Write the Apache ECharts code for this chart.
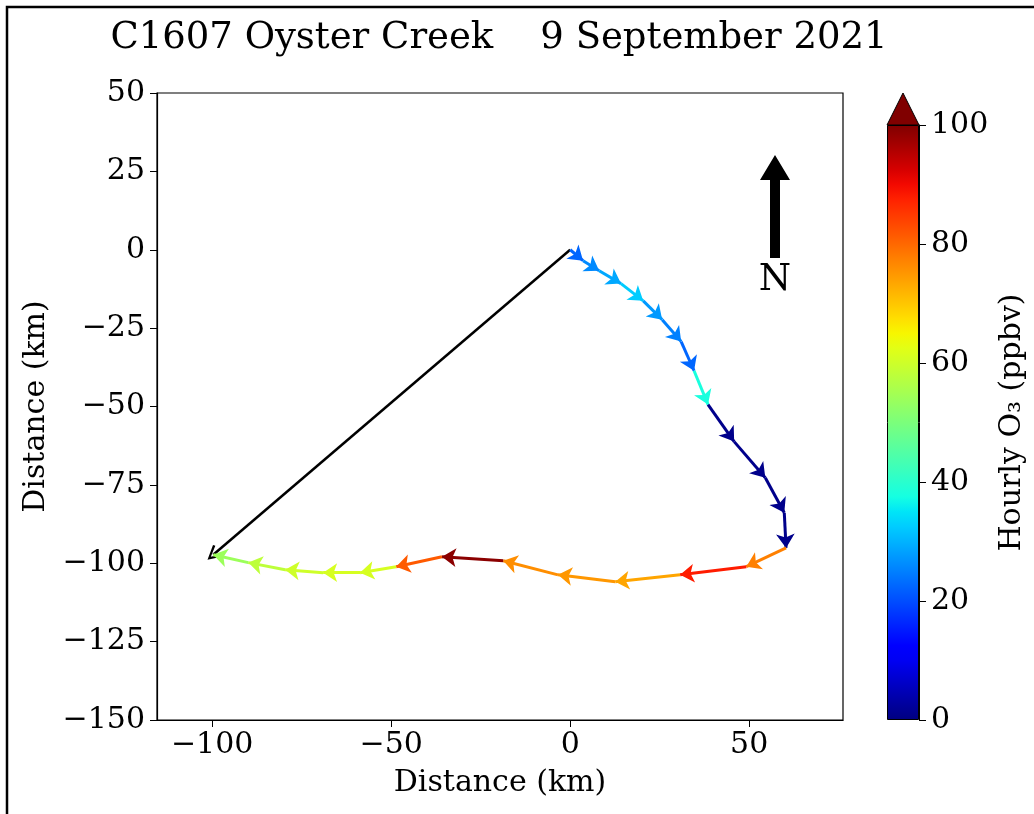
<!DOCTYPE html>
<html><head><meta charset="utf-8">
<script src="https://cdn.jsdelivr.net/npm/echarts@6/dist/echarts.min.js"></script>
<style>html,body{margin:0;padding:0;background:#fff}#c{width:1034px;height:814px}</style>
</head><body><div id="c"></div>
<script>
// Trajectory vertices (km east / km north of site)
const trajX = [0, 3.6, 8.1, 14.2, 20.4, 25.7, 31.0, 34.6, 38.5, 45.8, 54.5, 59.8, 60.3,
  49.2, 30.7, 12.6, -3.4, -18.7, -35.8, -48.6, -58.7, -69.0, -79.6, -89.9, -99.7];
const trajY = [0, -3.5, -6.7, -10.8, -16.3, -22.3, -29.3, -38.6, -49.4, -61.2, -72.7, -83.9, -95.1,
  -101.1, -103.7, -105.9, -103.7, -99.2, -97.9, -101.1, -103.0, -103.0, -102.1, -99.8, -97.3];
// Hourly O3 (ppbv) for each segment
const segO3 = [22.5, 26, 29, 32.5, 27.5, 25, 22.5, 38, 1, 1, 1, 1,
  77.5, 88, 73.5, 75, 76, 99, 81.5, 61, 61, 60, 58, 54];
const xTickValues = [-100, -50, 0, 50];
const yTickValues = [-150, -125, -100, -75, -50, -25, 0, 25, 50];
const cbTickValues = [0, 20, 40, 60, 80, 100];
const titleText = 'C1607 Oyster Creek    9 September 2021';

const FONT = 'DejaVu Serif';
function jet(v) {
  const t = Math.max(0, Math.min(1, v / 100));
  const R = [[0,0],[0.35,0],[0.66,1],[0.89,1],[1,0.5]];
  const G = [[0,0],[0.125,0],[0.375,1],[0.64,1],[0.91,0],[1,0]];
  const B = [[0,0.5],[0.11,1],[0.34,1],[0.65,0],[1,0]];
  function f(s){ for (let i=1;i<s.length;i++){ if (t<=s[i][0]){ const a=s[i-1],b=s[i]; return a[1]+(b[1]-a[1])*(t-a[0])/(b[0]-a[0]); } } return s[s.length-1][1]; }
  const c = [f(R),f(G),f(B)].map(x=>Math.round(x*255));
  return 'rgb('+c.join(',')+')';
}
const minus = v => v < 0 ? '\u2212' + Math.abs(v) : String(v);

const segData = [];
for (let i = 0; i < segO3.length; i++) {
  segData.push({ coords: [[trajX[i], trajY[i]], [trajX[i+1], trajY[i+1]]], value: segO3[i],
    lineStyle: { color: jet(segO3[i]) } });
}
const n = trajX.length - 1;
const blackData = [{ coords: [[trajX[0], trajY[0]], [trajX[n], trajY[n]]] }];

const stops = [];
for (let k = 0; k <= 40; k++) stops.push({ offset: k/40, color: jet(k*2.5) });

const chart = echarts.init(document.getElementById('c'), null, { renderer: 'canvas' });
const axisFont = { fontFamily: FONT, fontSize: 30, color: '#000' };
chart.setOption({
  animation: false,
  backgroundColor: '#fff',
  grid: [
    { left: 157, top: 93, width: 686, height: 627, show: true, borderColor: '#000', borderWidth: 1.2, backgroundColor: 'transparent' },
    { left: 887, top: 125, width: 32, height: 595 }
  ],
  xAxis: [
    { type: 'value', gridIndex: 0, min: -115.4, max: 76.2,
      axisLine: { show: true, onZero: false, lineStyle: { color: '#000', width: 1.2 } },
      axisTick: { show: true, inside: false, length: 7, lineStyle: { color: '#000' }, customValues: xTickValues },
      axisLabel: { ...axisFont, margin: 10, formatter: minus, customValues: xTickValues },
      splitLine: { show: false },
      name: 'Distance (km)', nameLocation: 'middle', nameGap: 48, nameTextStyle: axisFont },
    { type: 'category', gridIndex: 1, data: ['c'], show: false }
  ],
  yAxis: [
    { type: 'value', gridIndex: 0, min: -150, max: 50, interval: 25,
      axisLine: { show: true, onZero: false, lineStyle: { color: '#000', width: 1.2 } },
      axisTick: { show: true, inside: false, length: 7, lineStyle: { color: '#000' } },
      axisLabel: { ...axisFont, margin: 12, formatter: minus },
      splitLine: { show: false },
      name: 'Distance (km)', nameLocation: 'middle', nameGap: 104, nameRotate: 90, nameTextStyle: axisFont },
    { type: 'value', gridIndex: 1, min: 0, max: 100, interval: 20, position: 'right',
      axisLine: { show: true, onZero: false, lineStyle: { color: '#000', width: 1 } },
      axisTick: { show: true, inside: false, length: 7, lineStyle: { color: '#000' } },
      axisLabel: { ...axisFont, margin: 12 },
      splitLine: { show: false },
      name: 'Hourly O\u2083 (ppbv)', nameLocation: 'middle', nameGap: 78, nameRotate: 90, nameTextStyle: axisFont }
  ],
  series: [
    { type: 'bar', xAxisIndex: 1, yAxisIndex: 1, data: [100], barWidth: '100%', silent: true,
      itemStyle: { color: new echarts.graphic.LinearGradient(0, 1, 0, 0, stops), borderColor: '#000', borderWidth: 1 } },
    { type: 'lines', coordinateSystem: 'cartesian2d', xAxisIndex: 0, yAxisIndex: 0, silent: true,
      symbol: ['none', 'path://M0,0 L6,10 L4.4,11 L0,3.2 L-4.4,11 L-6,10 Z'], symbolSize: [16, 15],
      lineStyle: { color: '#000', width: 2.5, opacity: 1 }, data: blackData, z: 3 },
    { type: 'lines', coordinateSystem: 'cartesian2d', xAxisIndex: 0, yAxisIndex: 0, silent: true,
      symbol: ['none', 'arrow'], symbolSize: [11, 14],
      lineStyle: { width: 3, opacity: 1 }, data: segData, z: 4 }
  ],
  graphic: [
    { type: 'polyline', shape: { points: [[7, 814], [7, 7], [1034, 7]] }, style: { stroke: '#000', lineWidth: 2.5, fill: null }, silent: true },
    { type: 'text', x: 499, y: 38, style: { text: titleText, fontFamily: FONT, fontSize: 37, fill: '#000', align: 'center', verticalAlign: 'middle' } },
    { type: 'polygon', shape: { points: [[887,125],[919,125],[903,93]] }, style: { fill: '#800000', stroke: '#000', lineWidth: 1 }, z: 10 },
    { type: 'polygon', shape: { points: [[770,258],[780,258],[780,180],[790,180],[775,155],[760,180],[770,180]] }, style: { fill: '#000' } },
    { type: 'text', x: 775, y: 280, style: { text: 'N', fontFamily: FONT, fontSize: 37, fill: '#000', align: 'center', verticalAlign: 'middle' } }
  ]
});
</script></body></html>
